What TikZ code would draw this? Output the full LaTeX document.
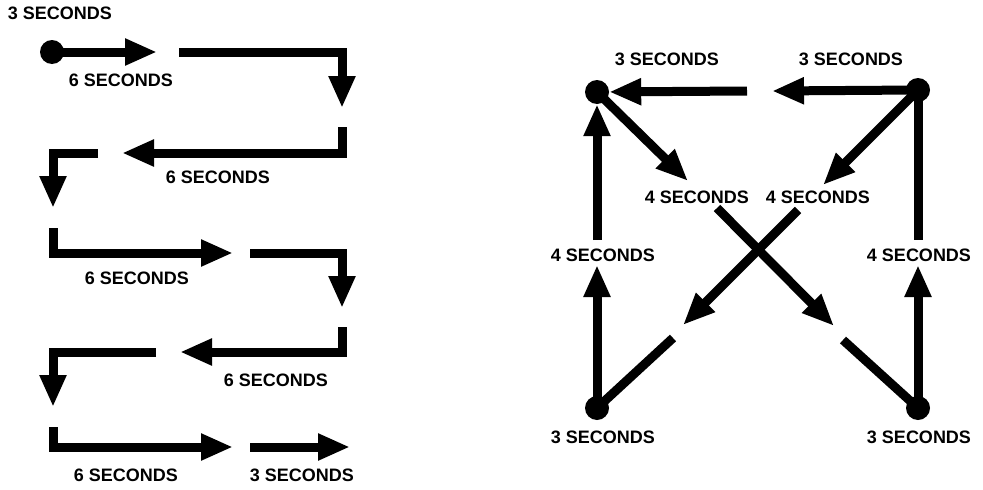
\documentclass[tikz,border=0pt]{standalone}
\usepackage{fontspec}
\setmainfont{Liberation Sans}
\usetikzlibrary{arrows.meta}
\begin{document}
\begin{tikzpicture}[x=1pt,y=-1pt,
  conn/.style={line width=9pt, line join=miter},
  arr/.style={conn, -{Triangle[length=32pt,width=25pt]}},
  dot/.style={circle, fill=black, inner sep=0pt, minimum size=24pt},
  lbl/.style={font=\fontsize{18}{20}\selectfont\bfseries, inner sep=0pt}]
\useasboundingbox (0,0) rectangle (983,490);

% ---------------- left diagram ----------------
\node[lbl] (l0) at (60,13) {3 SECONDS};
\node[dot] (s) at (52,52) {};
\coordinate (a1) at (157,52);
\draw[arr] (s.center) -- (a1);
\node[lbl] (l1) at (121,80) {6 SECONDS};

\coordinate (b0) at (179,52); \coordinate (b1) at (342,52); \coordinate (b2) at (342,108);
\draw[arr] (b0) -- (b1) -- (b2);

\coordinate (c0) at (342,127); \coordinate (c1) at (342,153); \coordinate (c2) at (122,153);
\draw[arr] (c0) -- (c1) -- (c2);
\node[lbl] (l2) at (218,177) {6 SECONDS};

\coordinate (d0) at (98,153); \coordinate (d1) at (53,153); \coordinate (d2) at (53,208);
\draw[arr] (d0) -- (d1) -- (d2);

\coordinate (e0) at (53,228); \coordinate (e1) at (53,253); \coordinate (e2) at (233,253);
\draw[arr] (e0) -- (e1) -- (e2);
\node[lbl] (l3) at (137,278) {6 SECONDS};

\coordinate (f0) at (250,253); \coordinate (f1) at (342,253); \coordinate (f2) at (342,308);
\draw[arr] (f0) -- (f1) -- (f2);

\coordinate (g0) at (342,327); \coordinate (g1) at (342,352); \coordinate (g2) at (180,352);
\draw[arr] (g0) -- (g1) -- (g2);
\node[lbl] (l4) at (276,380) {6 SECONDS};

\coordinate (h0) at (156,352); \coordinate (h1) at (53,352); \coordinate (h2) at (53,407);
\draw[arr] (h0) -- (h1) -- (h2);

\coordinate (i0) at (53,427); \coordinate (i1) at (53,447); \coordinate (i2) at (233,447);
\draw[arr] (i0) -- (i1) -- (i2);

\coordinate (j0) at (250,447); \coordinate (j1) at (350,447);
\draw[arr] (j0) -- (j1);
\node[lbl] (l5) at (126,475) {6 SECONDS};
\node[lbl] (l6) at (302,475) {3 SECONDS};

% ---------------- right diagram ----------------
\node[dot] (tl) at (597,92) {};
\node[dot] (tr) at (918,90) {};
\node[dot] (bl) at (597,408) {};
\node[dot] (br) at (918,408) {};

\node[lbl] (r1) at (667,59) {3 SECONDS};
\node[lbl] (r2) at (851,59) {3 SECONDS};
\node[lbl] (r3) at (697,197) {4 SECONDS};
\node[lbl] (r4) at (818,197) {4 SECONDS};
\node[lbl] (r5) at (603,255) {4 SECONDS};
\node[lbl] (r6) at (919,255) {4 SECONDS};
\node[lbl] (r7) at (603,437) {3 SECONDS};
\node[lbl] (r8) at (919,437) {3 SECONDS};

% top row
\coordinate (t1) at (772,91);
\draw[arr] (tr.center) -- (t1);
\coordinate (t2) at (747,91);
\draw[arr] (t2) -- (tl);

% upper diagonals
\coordinate (m1) at (688,181);
\draw[arr] (tl.center) -- (m1);
\coordinate (m2) at (823,185);
\draw[arr] (tr.center) -- (m2);

% crossing diagonals
\coordinate (xa0) at (717,208); \coordinate (xa1) at (834,326);
\draw[arr] (xa0) -- (xa1);
\coordinate (xb0) at (798,210); \coordinate (xb1) at (683,325);
\draw[arr] (xb0) -- (xb1);

% lower diagonals
\coordinate (q1) at (673,338);
\draw[conn] (bl.center) -- (q1);
\coordinate (q2) at (843,340);
\draw[conn] (br.center) -- (q2);

% verticals
\coordinate (v1) at (597,265);
\draw[arr] (bl.center) -- (v1);
\coordinate (v2) at (597,240);
\draw[arr] (v2) -- (tl);
\coordinate (v3) at (918,265);
\draw[arr] (br.center) -- (v3);
\coordinate (v4) at (918,240);
\draw[conn] (tr.center) -- (v4);
\end{tikzpicture}
\end{document}
